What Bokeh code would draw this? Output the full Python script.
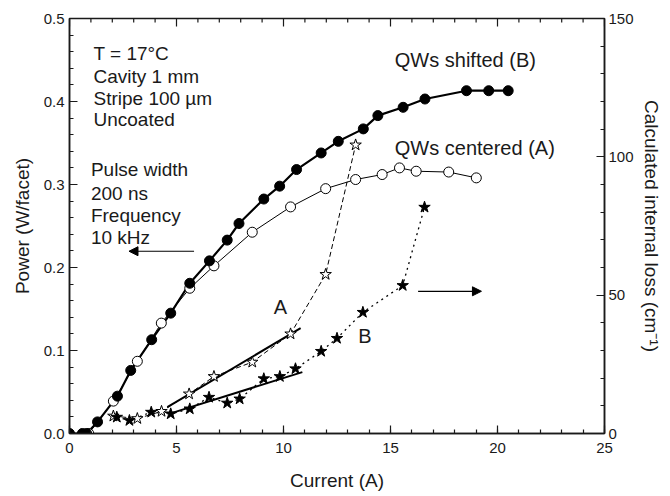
from bokeh.plotting import figure
from bokeh.models import (Range1d, LinearAxis, SingleIntervalTicker, NumeralTickFormatter,
                          Label, Arrow, NormalHead)
from bokeh.embed import file_html
from bokeh.resources import INLINE

# ---- data ----
# Power vs current, QWs shifted (B) - filled circles (left axis, W/facet)
cur_B = [0.0, 0.6, 0.8, 1.31, 2.24, 2.86, 3.84, 4.73, 5.62, 6.54, 7.37, 7.92, 9.08, 9.82,
         10.61, 11.76, 12.56, 13.73, 14.41, 15.59, 16.61, 18.55, 19.59, 20.5]
pow_B = [0.0, 0.0, 0.0, 0.014, 0.045, 0.076, 0.113, 0.145, 0.181, 0.208, 0.233, 0.253, 0.2825,
         0.298, 0.318, 0.338, 0.352, 0.367, 0.383, 0.393, 0.403, 0.413, 0.413, 0.413]
# Power vs current, QWs centered (A) - open circles
cur_A = [0.9, 2.05, 3.17, 4.29, 5.62, 6.75, 8.54, 10.33, 11.97, 13.37, 14.61, 15.42, 16.2,
         17.72, 19.01]
pow_A = [0.0, 0.039, 0.087, 0.133, 0.175, 0.202, 0.2425, 0.273, 0.295, 0.306, 0.312, 0.320,
         0.316, 0.315, 0.308]
# Calculated internal loss (right axis, cm^-1)
loss_cur_A = [2.05, 3.17, 4.3, 5.59, 6.75, 8.54, 10.33, 11.97, 13.37]
loss_A = [6.3, 5.4, 8.0, 14.3, 20.6, 25.8, 36.0, 57.5, 104.3]
loss_cur_B = [2.21, 2.8, 3.82, 4.73, 5.62, 6.52, 7.37, 7.95, 9.08, 9.83, 10.56, 11.76, 12.5,
              13.71, 15.57, 16.59]
loss_B = [5.9, 4.7, 7.7, 7.1, 8.9, 13.1, 11.0, 12.5, 19.8, 20.6, 23.4, 29.7, 34.4, 43.8,
          53.5, 81.8]
# linear fits
fit_A_cur = [4.57, 10.8]
fit_A_loss = [9.5, 38.1]
fit_B_cur = [4.65, 10.88]
fit_B_loss = [7.1, 22.2]
# top-edge ticks (no labels)
top_major = [0, 5, 10, 15, 20, 25]
top_minor = [i for i in range(26) if i % 5 != 0]

FONT = "Liberation Sans"
INK = "#1a1a1a"
W, H = 670, 496
BL, BR, BT, BB = 69, 66, 18, 63

p = figure(width=W, height=H, output_backend="svg", toolbar_location=None,
           x_range=Range1d(0, 25), y_range=Range1d(0, 0.5),
           min_border_left=BL, min_border_right=BR, min_border_top=BT, min_border_bottom=BB)
p.extra_y_ranges = {"loss": Range1d(0, 150)}
p.xgrid.visible = False
p.ygrid.visible = False
p.outline_line_color = INK
p.outline_line_width = 1.5
p.background_fill_color = "white"
p.border_fill_color = "white"


def style_axis(ax):
    ax.axis_line_color = INK
    ax.axis_line_width = 1.5
    ax.major_tick_in = 8
    ax.major_tick_out = 0
    ax.minor_tick_in = 4
    ax.minor_tick_out = 0
    ax.major_tick_line_color = INK
    ax.minor_tick_line_color = INK
    ax.major_tick_line_width = 1.2
    ax.minor_tick_line_width = 1.2
    ax.major_label_text_font = FONT
    ax.major_label_text_font_size = "15px"
    ax.major_label_text_color = INK
    ax.axis_label_text_font = FONT
    ax.axis_label_text_font_size = "19px"
    ax.axis_label_text_font_style = "normal"
    ax.axis_label_text_color = INK


xax = p.xaxis[0]
xax.ticker = SingleIntervalTicker(interval=5, num_minor_ticks=5)
xax.axis_label = "Current (A)"
style_axis(xax)
xax.major_label_standoff = 9
xax.axis_label_standoff = 14

yax = p.yaxis[0]
yax.ticker = SingleIntervalTicker(interval=0.1, num_minor_ticks=5)
yax.formatter = NumeralTickFormatter(format="0.0")
yax.axis_label = "Power (W/facet)"
style_axis(yax)
yax.major_label_standoff = 5
yax.axis_label_standoff = 8

rax = LinearAxis(y_range_name="loss", ticker=SingleIntervalTicker(interval=50, num_minor_ticks=5),
                 axis_label="Calculated internal loss (cm\u207b\u00b9)")
style_axis(rax)
rax.major_label_standoff = 4
rax.axis_label_standoff = 4
p.add_layout(rax, "right")

# top-edge inward ticks, as short segments hanging from the top of the frame
ytop = p.y_range.end
per_px = (p.y_range.end - p.y_range.start) / (H - BT - BB)
p.segment(x0=top_major, y0=[ytop] * len(top_major), x1=top_major,
          y1=[ytop - 8 * per_px] * len(top_major), line_color=INK, line_width=1.2)
p.segment(x0=top_minor, y0=[ytop] * len(top_minor), x1=top_minor,
          y1=[ytop - 4 * per_px] * len(top_minor), line_color=INK, line_width=1.2)

# power curves
p.line(cur_A, pow_A, line_color="black", line_width=1)
p.line(cur_B, pow_B, line_color="black", line_width=2.2)
p.scatter(cur_A, pow_A, marker="circle", size=10, fill_color="white", line_color="black",
          line_width=1)
p.scatter(cur_B, pow_B, marker="circle", size=10, fill_color="black", line_color="black")

# loss curves
p.line(loss_cur_A, loss_A, y_range_name="loss", line_color="black", line_width=1,
       line_dash="5 3")
p.line(loss_cur_B, loss_B, y_range_name="loss", line_color="black", line_width=1.3,
       line_dash="2 4")
p.line(fit_A_cur, fit_A_loss, y_range_name="loss", line_color="black", line_width=2)
p.line(fit_B_cur, fit_B_loss, y_range_name="loss", line_color="black", line_width=2)
p.scatter(loss_cur_A, loss_A, y_range_name="loss", marker="star", size=12,
          fill_color="white", line_color="black", line_width=1)
p.scatter(loss_cur_B, loss_B, y_range_name="loss", marker="star", size=12,
          fill_color="black", line_color="black", line_width=1)

# arrows
p.add_layout(Arrow(end=NormalHead(size=9, fill_color="black", line_color="black"),
                   x_start=5.82, y_start=0.2196, x_end=2.78, y_end=0.2196,
                   line_color="black", line_width=1.2))
p.add_layout(Arrow(end=NormalHead(size=9, fill_color="black", line_color="black"),
                   x_start=16.29, y_start=51.4, x_end=19.25, y_end=51.4,
                   y_range_name="loss", line_color="black", line_width=1.2))

# annotations
def add_text(x, y, txt, size="19px", align="left"):
    p.add_layout(Label(x=x, y=y, text=txt, text_font=FONT, text_font_size=size,
                       text_color=INK, text_align=align, text_baseline="middle"))

info1 = ["T = 17\u00b0C", "Cavity 1 mm", "Stripe 100 \u00b5m", "Uncoated"]
info1_y = [0.458, 0.430, 0.404, 0.378]
for t, y in zip(info1, info1_y):
    add_text(1.12, y, t)
info2 = ["Pulse width", "200 ns", "Frequency", "10 kHz"]
info2_y = [0.318, 0.289, 0.263, 0.236]
for t, y in zip(info2, info2_y):
    add_text(1.0, y, t)
add_text(15.2, 0.450, "QWs shifted (B)", size="20px")
add_text(15.2, 0.344, "QWs centered (A)", size="20px")
add_text(9.86, 0.152, "A", size="20px", align="center")
add_text(13.8, 0.117, "B", size="20px", align="center")

open("out.html", "w").write(file_html(p, INLINE))
